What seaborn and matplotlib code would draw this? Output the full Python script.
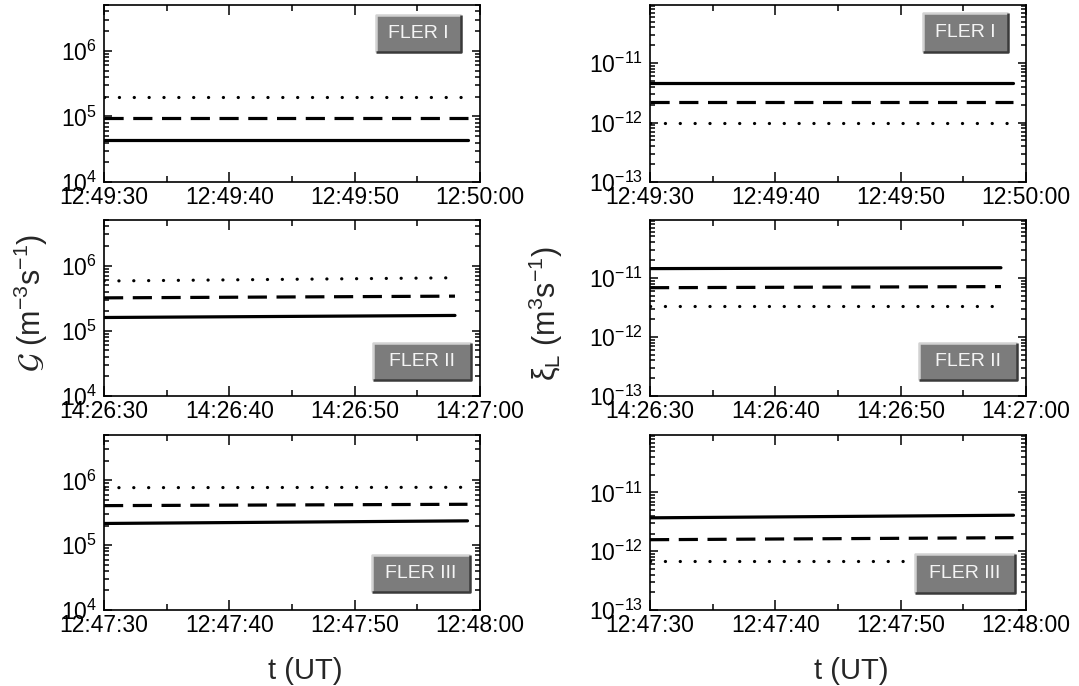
import math
import matplotlib
matplotlib.use("Agg")
import matplotlib.pyplot as plt
import matplotlib.ticker as mticker
from matplotlib.patches import Rectangle
from matplotlib.lines import Line2D
import pandas as pd
import seaborn as sns

# --- data -------------------------------------------------------------
events = ["FLER I", "FLER II", "FLER III"]
start_clock = ["12:49:30", "14:26:30", "12:47:30"]
window_s = 30

# seconds after the window start at which each trace ends
trace_end_G = [29.0, 28.0, 29.0]
trace_end_xi = [29.0, 28.0, 29.0]

# G (m^-3 s^-1): (value at start, value at end) for each event
G_solid = [(4.3e4, 4.3e4), (1.6e5, 1.72e5), (2.16e5, 2.37e5)]
G_dashed = [(9.5e4, 9.5e4), (3.2e5, 3.4e5), (4.07e5, 4.27e5)]
G_dotted = [(2.0e5, 2.0e5), (5.8e5, 6.5e5), (7.7e5, 7.8e5)]

# xi_L (m^3 s^-1): (value at start, value at end) for each event
xi_solid = [(4.7e-12, 4.7e-12), (1.43e-11, 1.48e-11), (3.7e-12, 4.1e-12)]
xi_dashed = [(2.2e-12, 2.2e-12), (6.8e-12, 7.1e-12), (1.57e-12, 1.7e-12)]
xi_dotted = [(1.0e-12, 1.0e-12), (3.3e-12, 3.3e-12), (6.7e-13, 6.7e-13)]

G_range = (1e4, 5e6)
xi_range = (1e-13, 9.5e-11)

# --- style ------------------------------------------------------------
sns.set_style("ticks", {"xtick.direction": "in", "ytick.direction": "in"})
plt.rcParams["font.family"] = ["Liberation Sans", "DejaVu Sans"]
plt.rcParams["mathtext.fontset"] = "custom"
plt.rcParams["mathtext.rm"] = "Liberation Sans"
plt.rcParams["mathtext.default"] = "regular"
plt.rcParams["axes.unicode_minus"] = False
plt.rcParams["axes.linewidth"] = 1.2

LINE_STYLES = {
    "solid": dict(linestyle="-"),
    "dashed": dict(linestyle=(0, (6, 3))),
    "dotted": dict(linestyle=(0, (0.05, 4.6)), dash_capstyle="round"),
}


def clock_formatter(start):
    h, m, s = map(int, start.split(":"))
    base = h * 3600 + m * 60 + s

    def fmt(v, pos):
        t = int(round(base + v))
        return f"{t // 3600:02d}:{(t % 3600) // 60:02d}:{t % 60:02d}"

    return mticker.FuncFormatter(fmt)


def draw_badge(ax, text, box):
    x0, y0, x1, y1 = box
    ax.add_patch(Rectangle((x0, y0), x1 - x0, y1 - y0, transform=ax.transAxes,
                           facecolor="#7c7c7c", edgecolor="none", zorder=5))
    ax.add_line(Line2D([x0, x0, x1], [y0, y1, y1], transform=ax.transAxes,
                       color="#d2d2d2", lw=1.8, zorder=6, solid_capstyle="butt"))
    ax.add_line(Line2D([x0, x1, x1], [y0, y0, y1], transform=ax.transAxes,
                       color="#3a3a3a", lw=1.8, zorder=6, solid_capstyle="butt"))
    ax.text((x0 + x1) / 2, (y0 + y1) / 2, text, transform=ax.transAxes,
            ha="center", va="center", color="#f4f4f4", fontsize=14, zorder=7)


def panel(ax, start, t_end, curves, yrange, badge_text, badge_box):
    for name, (v0, v1) in curves:
        df = pd.DataFrame({"t": [0.0, t_end], "value": [v0, v1]})
        sns.lineplot(data=df, x="t", y="value", ax=ax, color="black", lw=2.3,
                     **LINE_STYLES[name])
    ax.set_yscale("log")
    ax.set_ylim(*yrange)
    ax.set_xlim(0, window_s)
    ax.xaxis.set_major_locator(mticker.MultipleLocator(10))
    ax.xaxis.set_minor_locator(mticker.MultipleLocator(5))
    ax.xaxis.set_major_formatter(clock_formatter(start))
    lo, hi = yrange
    decades = [10.0 ** k for k in range(math.ceil(math.log10(lo) - 1e-9),
                                         math.floor(math.log10(hi) + 1e-9) + 1)]
    ax.yaxis.set_major_locator(mticker.FixedLocator(decades))
    ax.yaxis.set_major_formatter(mticker.LogFormatterSciNotation())
    ax.yaxis.set_minor_locator(mticker.LogLocator(base=10, subs=range(2, 10), numticks=20))
    ax.yaxis.set_minor_formatter(mticker.NullFormatter())
    ax.tick_params(which="both", direction="in", top=True, right=True,
                   labelsize=16.5, width=1.1, colors="black")
    ax.tick_params(axis="x", which="major", length=7, pad=3)
    ax.tick_params(axis="x", which="minor", length=4)
    ax.tick_params(axis="y", which="major", length=6, pad=5)
    ax.tick_params(axis="y", which="minor", length=3.5)
    ax.set_xlabel("")
    ax.set_ylabel("")
    for sp in ax.spines.values():
        sp.set_visible(True)
        sp.set_color("black")
    draw_badge(ax, badge_text, badge_box)


fig = plt.figure(figsize=(10.79, 6.86), dpi=100)

rows = [(0.7347, 0.258), (0.4227, 0.2566), (0.1108, 0.2551)]
left_col = (0.0964, 0.3485)
right_col = (0.6024, 0.3485)

badges_G = [(0.723, 0.734, 0.949, 0.944),
            (0.716, 0.091, 0.976, 0.303),
            (0.713, 0.103, 0.973, 0.314)]
badges_xi = [(0.725, 0.736, 0.952, 0.953),
             (0.716, 0.091, 0.976, 0.301),
             (0.705, 0.099, 0.971, 0.320)]

axes_G, axes_xi = [], []
for i, (yb, h) in enumerate(rows):
    axg = fig.add_axes([left_col[0], yb, left_col[1], h])
    panel(axg, start_clock[i], trace_end_G[i],
          [("solid", G_solid[i]), ("dashed", G_dashed[i]), ("dotted", G_dotted[i])],
          G_range, events[i], badges_G[i])
    axes_G.append(axg)

    axx = fig.add_axes([right_col[0], yb, right_col[1], h])
    panel(axx, start_clock[i], trace_end_xi[i],
          [("solid", xi_solid[i]), ("dashed", xi_dashed[i]), ("dotted", xi_dotted[i])],
          xi_range, events[i], badges_xi[i])
    axes_xi.append(axx)

axes_G[1].set_ylabel(r"$\mathcal{G}$ (m$^{-3}$s$^{-1}$)", fontsize=22,
                     math_fontfamily="stixsans")
axes_G[1].yaxis.set_label_coords(-0.144, 0.53)
axes_xi[1].set_ylabel(r"$\xi_{\mathrm{L}}$ (m$^{3}$s$^{-1}$)", fontsize=22,
                      math_fontfamily="stixsans")
axes_xi[1].yaxis.set_label_coords(-0.226, 0.47)

for ax in (axes_G[2], axes_xi[2]):
    ax.set_xlabel("t (UT)", fontsize=21)
    ax.xaxis.set_label_coords(0.535, -0.27)

fig.savefig("out.png", dpi=100)
